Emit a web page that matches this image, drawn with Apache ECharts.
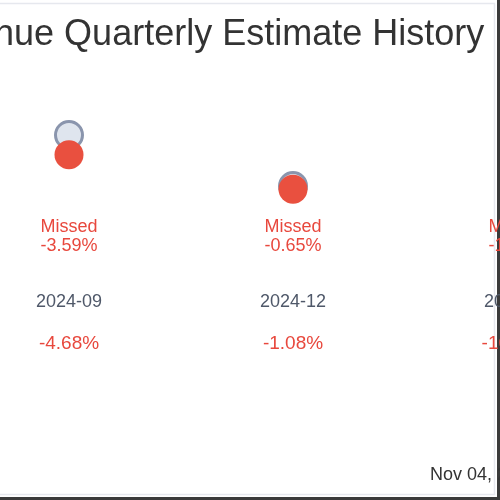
<!DOCTYPE html>
<html>
<head>
<meta charset="utf-8">
<style>
  html, body { margin: 0; padding: 0; background: #fff; overflow: hidden; }
  #main { width: 500px; height: 500px; }
</style>
<script src="https://cdn.jsdelivr.net/npm/echarts@6/dist/echarts.min.js"></script>
</head>
<body>
<div id="main"></div>
<script>
// quarterly revenue estimate vs actual (only part of the chart is in view)
var quarters = ['2024-09', '2024-12', '2025-03'];
var estimates = [1.85, 1.68, 1.75];
var actuals = [1.784, 1.669, 1.73];
var outcomes = ['Missed', 'Missed', 'Missed'];
var surprises = [-3.59, -0.65, -1.14];
var changes = [-4.68, -1.08, -10.37];

var red = '#e8483d';
var font = 'Liberation Sans, Arial, sans-serif';

function pct(v) {
  return (v > 0 ? '+' : '') + v.toFixed(2) + '%';
}

function labelAxis(margin, formatter, rich) {
  return {
    type: 'category',
    position: 'bottom',
    data: quarters,
    axisLine: { show: false },
    axisTick: { show: false },
    splitLine: { show: false },
    axisLabel: {
      margin: margin,
      interval: 0,
      formatter: formatter,
      rich: rich
    }
  };
}

var chart = echarts.init(document.getElementById('main'));

chart.setOption({
  animation: false,
  title: [{
    text: 'Revenue Quarterly Estimate History',
    left: -90,
    top: 17,
    padding: 0,
    textStyle: { fontSize: 36, fontWeight: 'normal', color: '#333', fontFamily: font }
  }, {
    text: 'Nov 04, 2025',
    left: 430,
    top: 466,
    padding: 0,
    textStyle: { fontSize: 18, fontWeight: 'normal', color: '#333', fontFamily: font }
  }],
  grid: {
    left: -43,
    width: 672,
    top: 90,
    height: 120,
    outerBoundsMode: 'none'
  },
  xAxis: [
    labelAxis(8, function (v, i) {
      return '{r|' + outcomes[i] + '}\n{r|' + pct(surprises[i]) + '}';
    }, { r: { color: red, fontSize: 18, lineHeight: 19, fontFamily: font } }),
    labelAxis(83, function (v) {
      return '{d|' + v + '}';
    }, { d: { color: '#4f5869', fontSize: 18, lineHeight: 19, fontFamily: font } }),
    labelAxis(124, function (v, i) {
      return '{p|' + pct(changes[i]) + '}';
    }, { p: { color: red, fontSize: 19, lineHeight: 20, fontFamily: font } })
  ],
  yAxis: {
    type: 'value',
    min: 1.6,
    max: 2.0,
    show: false
  },
  series: [{
    name: 'Estimate',
    type: 'scatter',
    xAxisIndex: 0,
    data: estimates,
    symbolSize: 27,
    itemStyle: { color: '#dfe5ee', borderColor: '#8a95ad', borderWidth: 3, opacity: 1 },
    z: 2
  }, {
    name: 'Actual',
    type: 'scatter',
    xAxisIndex: 0,
    data: actuals,
    symbolSize: 29,
    itemStyle: { color: '#e9503f', opacity: 1 },
    z: 3
  }],
  graphic: [{
    type: 'rect',
    shape: { x: -10, y: 3.5, width: 504.5, height: 491 },
    style: { fill: null, stroke: '#e6e8ee', lineWidth: 1.5 },
    silent: true
  }, {
    type: 'rect',
    shape: { x: 497, y: 0, width: 3, height: 500 },
    style: { fill: '#3a3a3a' },
    silent: true
  }, {
    type: 'rect',
    shape: { x: 0, y: 497, width: 500, height: 3 },
    style: { fill: '#3a3a3a' },
    silent: true
  }]
});
</script>
</body>
</html>
